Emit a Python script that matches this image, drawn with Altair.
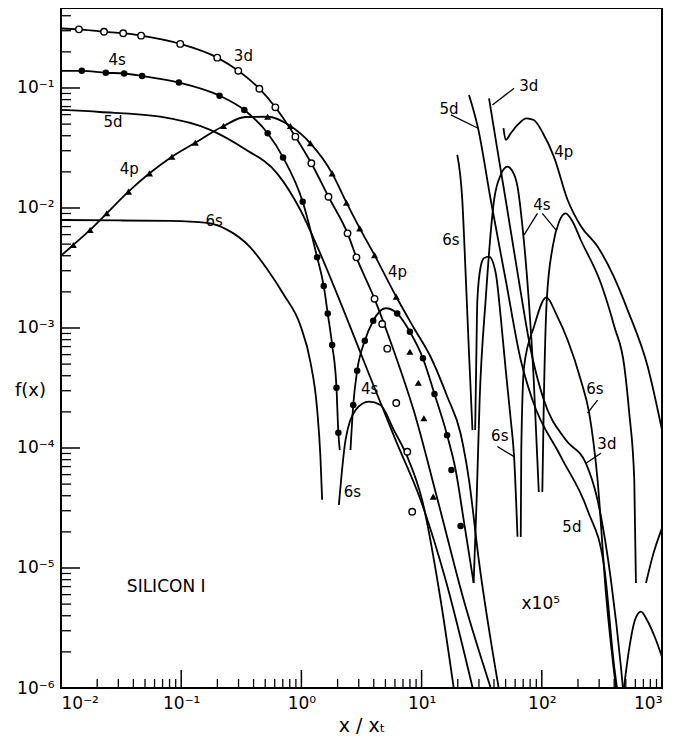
import altair as alt
import pandas as pd

# ---------------- curves (x/x_t , f(x)) ----------------
# unscaled part
x_3d = [0.01, 0.0141, 0.0228, 0.0329, 0.0464, 0.0982, 0.1995, 0.2985, 0.447, 0.607, 0.891, 1.21, 1.68, 2.42, 2.87, 4.06, 5.84, 8.58, 13.6, 22.4, 37.6]
f_3d = [0.313, 0.308, 0.294, 0.286, 0.273, 0.233, 0.179, 0.139, 0.0986, 0.069, 0.0393, 0.0236, 0.0124, 0.00615, 0.00388, 0.00175, 6.56e-4, 2.07e-4, 3.69e-5, 5.41e-6, 1e-6]

x_4s_a = [0.01, 0.0149, 0.0236, 0.0335, 0.0473, 0.0957, 0.2085, 0.335, 0.524, 0.704, 1.025, 1.352, 1.534, 1.656, 1.803, 1.958, 2.03, 2.085]
f_4s_a = [0.139, 0.139, 0.134, 0.132, 0.126, 0.111, 0.0863, 0.0656, 0.0419, 0.0264, 0.01127, 0.00388, 0.00224, 0.00132, 7.21e-4, 3.18e-4, 1.34e-4, 9.62e-5]

x_4s_b = [2.56, 2.70, 2.91, 3.37, 3.96, 5.01, 6.27, 7.99, 10.26, 12.8, 16.3, 19.2, 22.4, 27.1]
f_4s_b = [9.62e-5, 2.28e-4, 4.41e-4, 7.83e-4, 1.15e-3, 1.46e-3, 1.32e-3, 9.31e-4, 5.59e-4, 2.82e-4, 1.28e-4, 6.56e-5, 2.51e-5, 7.5e-6]

x_4p = [0.01, 0.01266, 0.01746, 0.02404, 0.0364, 0.0545, 0.0837, 0.131, 0.225, 0.341, 0.524, 0.81, 1.189, 1.803, 2.371, 3.06, 4.06, 6.15, 8.63, 11.9, 16.4, 21.1, 24.8, 29.9, 43.8]
f_4p = [0.00401, 0.00492, 0.00656, 0.00903, 0.01368, 0.01945, 0.02675, 0.035, 0.0482, 0.0573, 0.0576, 0.0482, 0.0346, 0.01945, 0.01107, 0.00677, 0.00405, 0.00182, 1.0e-3, 5.73e-4, 2.66e-4, 1.32e-4, 5.41e-5, 1.17e-5, 1e-6]

x_5d = [0.01, 0.0211, 0.0668, 0.1745, 0.3304, 0.627, 0.981, 1.393, 2.33, 3.76, 6.07, 9.81, 15.85, 26.6]
f_5d = [0.0656, 0.0631, 0.0576, 0.0447, 0.0314, 0.01945, 9.62e-3, 4.47e-3, 1.28e-3, 3.83e-4, 1.17e-4, 3.69e-5, 7.94e-6, 1e-6]

x_6s_a = [0.01, 0.031, 0.081, 0.1638, 0.24, 0.376, 0.518, 0.712, 0.981, 1.189, 1.352, 1.439, 1.488]
f_6s_a = [0.00794, 0.00787, 0.0078, 0.0075, 0.0066, 0.0047, 0.0031, 0.0019, 0.00105, 5.2e-4, 2.1e-4, 8.5e-5, 3.7e-5]

x_6s_b = [2.05, 2.33, 2.82, 3.64, 4.55, 5.88, 7.6, 10.1, 14.4, 18.5]
f_6s_b = [3.35e-5, 1.17e-4, 2.07e-4, 2.43e-4, 2.28e-4, 1.41e-4, 8.47e-5, 3.69e-5, 5.41e-6, 1e-6]

# x 10^5 part
x_6s_xa = [19.8, 21.8, 23.3, 24.8, 26.5]
f_6s_xa = [0.0277, 0.01166, 0.00268, 6.15e-4, 1.41e-4]
x_6s_xb = [27.9, 28.5, 29.1, 31.0, 33.0, 36.4, 41.4, 45.5, 50.1, 55.2, 58.8, 62.8]
f_6s_xb = [1.41e-4, 5.41e-4, 1.71e-3, 3.24e-3, 3.81e-3, 3.93e-3, 2.86e-3, 1.24e-3, 4.47e-4, 1.71e-4, 8.47e-5, 1.82e-5]
x_6s_xc = [66.8, 67.5, 71.2, 86.2, 109, 133, 164, 211, 248, 291, 341, 414]
f_6s_xc = [1.81e-5, 9.62e-5, 4.77e-4, 1.03e-3, 1.80e-3, 1.28e-3, 7.94e-4, 3.69e-4, 1.95e-4, 5.41e-5, 6.31e-6, 1e-6]
x_6s_xd = [482, 531, 596, 668, 750, 891, 1000]
f_6s_xd = [1e-6, 2.07e-6, 3.69e-6, 4.33e-6, 3.69e-6, 2.51e-6, 1.81e-6]

x_4s_xa = [27.1, 28.7, 30.4, 34.1, 40.1, 45.5, 51.8, 56.2, 62.8, 69.5, 77.9, 85.7, 94.4]
f_4s_xa = [7.5e-6, 3.69e-5, 2.51e-4, 1.71e-3, 0.01166, 0.01884, 0.0221, 0.02075, 0.01507, 6.56e-3, 1.71e-3, 3.69e-4, 4.3e-5]
x_4s_xb = [101, 104, 110, 124, 139, 158, 181, 211, 310, 401, 486, 534, 588, 607]
f_4s_xb = [4.3e-5, 2.51e-4, 1.71e-3, 4.92e-3, 7.64e-3, 9.03e-3, 7.64e-3, 5.41e-3, 2.36e-3, 1.03e-3, 4.77e-4, 1.95e-4, 5.41e-5, 7.5e-6]
x_4s_xc = [736, 841, 1000]
f_4s_xc = [7.5e-6, 1.28e-5, 2.15e-5]

x_4p_x = [48.0, 50.1, 55.2, 62.8, 74.6, 85.7, 102, 126, 164, 211, 291, 391, 518, 760, 1000]
f_4p_x = [0.0462, 0.0369, 0.0419, 0.0492, 0.0559, 0.0541, 0.0422, 0.0268, 0.01166, 7.08e-3, 4.77e-3, 2.77e-3, 1.41e-3, 4.77e-4, 1.41e-4]

x_5d_x = [24.8, 29.5, 37.6, 50.1, 66.8, 83.6, 144, 240, 330, 400, 422]
f_5d_x = [0.0875, 0.0462, 0.01166, 2.51e-3, 5.41e-4, 2.51e-4, 8.47e-5, 3.04e-5, 1.03e-5, 1.51e-6, 1e-6]

x_3d_x = [36.4, 41.4, 50.1, 64.3, 81.0, 104, 158, 233, 291, 376, 455, 473]
f_3d_x = [0.082, 0.0369, 0.01166, 2.51e-3, 6.56e-4, 2.51e-4, 1.17e-4, 7.45e-5, 3.69e-5, 7.94e-6, 1.51e-6, 1e-6]

# symbols
x_open = [0.0141, 0.0228, 0.0329, 0.0464, 0.0982, 0.1995, 0.2985, 0.447, 0.607, 0.891, 1.21, 1.68, 2.42, 2.87, 4.06, 4.70, 5.18, 6.15, 7.60, 8.35]
f_open = [0.308, 0.294, 0.286, 0.273, 0.233, 0.179, 0.139, 0.0986, 0.069, 0.0393, 0.0236, 0.0124, 0.00615, 0.00388, 0.00175, 1.08e-3, 6.73e-4, 2.37e-4, 9.3e-5, 2.94e-5]

x_fill = [0.0149, 0.0236, 0.0335, 0.0473, 0.0957, 0.2085, 0.335, 0.524, 0.704, 1.025, 1.352, 1.534, 1.656, 1.803, 1.958, 2.03,
          2.70, 2.91, 3.37, 3.96, 6.27, 7.99, 10.26, 12.8, 16.3, 17.7, 21.1]
f_fill = [0.139, 0.134, 0.132, 0.126, 0.111, 0.0863, 0.0656, 0.0419, 0.0264, 0.01127, 0.00388, 0.00224, 0.00132, 7.21e-4, 3.18e-4, 1.34e-4,
          2.28e-4, 4.41e-4, 7.83e-4, 1.15e-3, 1.32e-3, 9.31e-4, 5.59e-4, 2.82e-4, 1.28e-4, 6.56e-5, 2.24e-5]

x_tri = [0.01266, 0.01746, 0.02404, 0.0364, 0.0545, 0.0837, 0.131, 0.225, 0.524, 0.81, 1.189, 1.803, 2.371, 3.06, 4.06, 6.15, 7.99, 9.39, 10.45, 12.5]
f_tri = [0.00492, 0.00656, 0.00903, 0.01368, 0.01945, 0.02675, 0.035, 0.0482, 0.0576, 0.0482, 0.0346, 0.01945, 0.01107, 0.00677, 0.00405, 0.00182, 6.34e-4, 3.5e-4, 1.77e-4, 3.93e-5]

# curve labels
lab_text = ["3d", "4s", "5d", "4p", "6s", "4p", "4s", "6s",
            "5d", "3d", "4p", "4s", "6s", "6s", "6s", "3d", "5d"]
lab_x = [0.329, 0.0293, 0.0271, 0.0369, 0.188, 6.31, 3.69, 2.66,
         16.9, 77.9, 152, 100, 17.5, 44.7, 277, 348, 178]
lab_y = [0.185, 0.171, 0.0521, 0.0211, 7.8e-3, 2.93e-3, 3.1e-4, 4.3e-5,
         0.0668, 0.104, 0.0293, 0.0106, 5.41e-3, 1.26e-4, 3.1e-4, 1.08e-4, 2.2e-5]
big_text = ["SILICON I", "x10\u2075"]
big_x = [0.075, 98.1]
big_y = [7e-6, 5.01e-6]

# leader lines from labels to curves
lead_x1 = [17.5, 58.8, 92.0, 101, 42.7, 291, 310]
lead_y1 = [0.0596, 0.0994, 9.03e-3, 9.03e-3, 1.03e-4, 2.51e-4, 9.03e-5]
lead_x2 = [29.5, 38.8, 71.2, 131, 58.8, 240, 233]
lead_y2 = [0.0462, 0.0722, 5.96e-3, 6.56e-3, 8.47e-5, 1.95e-4, 7.45e-5]

# axis ticks
x_major = [0.01, 0.1, 1, 10, 100, 1000]
y_major = [1e-6, 1e-5, 1e-4, 1e-3, 1e-2, 1e-1]
mantissas = [2, 3, 4, 5, 6, 7, 8, 9]

# ---------------- tables ----------------
segments = [
    ("3d", x_3d, f_3d), ("4s_a", x_4s_a, f_4s_a), ("4s_b", x_4s_b, f_4s_b),
    ("4p", x_4p, f_4p), ("5d", x_5d, f_5d), ("6s_a", x_6s_a, f_6s_a), ("6s_b", x_6s_b, f_6s_b),
    ("6s_xa", x_6s_xa, f_6s_xa), ("6s_xb", x_6s_xb, f_6s_xb), ("6s_xc", x_6s_xc, f_6s_xc),
    ("6s_xd", x_6s_xd, f_6s_xd), ("4s_xa", x_4s_xa, f_4s_xa), ("4s_xb", x_4s_xb, f_4s_xb),
    ("4s_xc", x_4s_xc, f_4s_xc), ("4p_x", x_4p_x, f_4p_x), ("5d_x", x_5d_x, f_5d_x),
    ("3d_x", x_3d_x, f_3d_x),
]
rows = []
for name, xv, fv in segments:
    for i, (a, b) in enumerate(zip(xv, fv)):
        rows.append({"seg": name, "i": i, "x": a, "y": b})
lines_df = pd.DataFrame(rows)

open_df = pd.DataFrame({"x": x_open, "y": f_open})
fill_df = pd.DataFrame({"x": x_fill, "y": f_fill})
tri_df = pd.DataFrame({"x": x_tri, "y": f_tri})
lab_df = pd.DataFrame({"x": lab_x, "y": lab_y, "t": lab_text})
big_df = pd.DataFrame({"x": big_x, "y": big_y, "t": big_text})
lead_df = pd.DataFrame({"x": lead_x1, "y": lead_y1, "x2": lead_x2, "y2": lead_y2})

ymaj_df = pd.DataFrame({"y": y_major})
ymin_df = pd.DataFrame({"y": [m * d for d in y_major for m in mantissas if m * d < 0.46]})
xmaj_df = pd.DataFrame({"x": x_major})
xmin_df = pd.DataFrame({"x": [m * d for d in x_major[:-1] for m in mantissas]})

W, H = 601, 680
FONT = "DejaVu Sans"
xs = alt.Scale(type="log", domain=[0.01, 1000], nice=False)
ys = alt.Scale(type="log", domain=[1e-6, 0.464], nice=False)

x_axis = alt.Axis(values=x_major, ticks=False, domain=False, grid=False,
                  labelExpr="'10' + ['\u207b\u00b2','\u207b\u00b9','\u2070','\u00b9','\u00b2','\u00b3'][round(log(datum.value)/LN10)+2]",
                  labelFont=FONT, labelFontSize=17, labelColor="black", labelPadding=7,
                  title="x / x\u209c", titleFont=FONT, titleFontSize=19, titleFontWeight="normal",
                  titleColor="black", titlePadding=5)
y_axis = alt.Axis(values=y_major, ticks=False, domain=False, grid=False,
                  labelExpr="'10' + ['\u207b\u2076','\u207b\u2075','\u207b\u2074','\u207b\u00b3','\u207b\u00b2','\u207b\u00b9'][round(log(datum.value)/LN10)+6]",
                  labelFont=FONT, labelFontSize=17, labelColor="black", labelPadding=7,
                  title="f(x)", titleFont=FONT, titleFontSize=18, titleFontWeight="normal",
                  titleColor="black", titleAngle=0, titleX=-31, titleY=382,
                  titleAlign="center", titleBaseline="middle")

X = alt.X("x:Q", scale=xs, axis=x_axis)
Y = alt.Y("y:Q", scale=ys, axis=y_axis)

base_lines = alt.Chart(lines_df).mark_line(color="black", strokeWidth=1.8, clip=True, interpolate="monotone").encode(
    x=X, y=Y, detail="seg:N", order="i:Q")

leaders = alt.Chart(lead_df).mark_rule(color="black", strokeWidth=1.3).encode(
    x=X, y=Y, x2="x2:Q", y2="y2:Q")

open_pts = alt.Chart(open_df).mark_point(shape="circle", filled=True, fill="white", stroke="black",
                                         strokeWidth=1.4, size=42, opacity=1, clip=True).encode(x=X, y=Y)
fill_pts = alt.Chart(fill_df).mark_point(shape="circle", filled=True, color="black", size=42, opacity=1, clip=True).encode(x=X, y=Y)
tri_pts = alt.Chart(tri_df).mark_point(shape="triangle-up", filled=True, color="black", size=50, opacity=1, clip=True).encode(x=X, y=Y)

labels = alt.Chart(lab_df).mark_text(font=FONT, fontSize=15, color="black").encode(x=X, y=Y, text="t:N")
big_labels = alt.Chart(big_df).mark_text(font=FONT, fontSize=17, color="black").encode(x=X, y=Y, text="t:N")

ytick_major = alt.Chart(ymaj_df).mark_rule(color="black", strokeWidth=1.5).encode(
    y=Y, x=alt.value(0), x2=alt.value(19))
ytick_minor = alt.Chart(ymin_df).mark_rule(color="black", strokeWidth=1.3).encode(
    y=Y, x=alt.value(0), x2=alt.value(10))
xtick_major = alt.Chart(xmaj_df).mark_rule(color="black", strokeWidth=1.5).encode(
    x=X, y=alt.value(H), y2=alt.value(H - 18))
xtick_minor = alt.Chart(xmin_df).mark_rule(color="black", strokeWidth=1.3).encode(
    x=X, y=alt.value(H), y2=alt.value(H - 9))

chart = alt.layer(
    base_lines, leaders, open_pts, fill_pts, tri_pts, labels, big_labels,
    ytick_major, ytick_minor, xtick_major, xtick_minor,
).properties(
    width=W, height=H,
    autosize=alt.AutoSizeParams(type="none"),
    padding={"left": 53, "top": 0, "right": 10, "bottom": 51},
    background="white",
).configure_view(stroke="black", strokeWidth=2)

chart.save("out.html", embed_options={"renderer": "svg", "actions": False})
